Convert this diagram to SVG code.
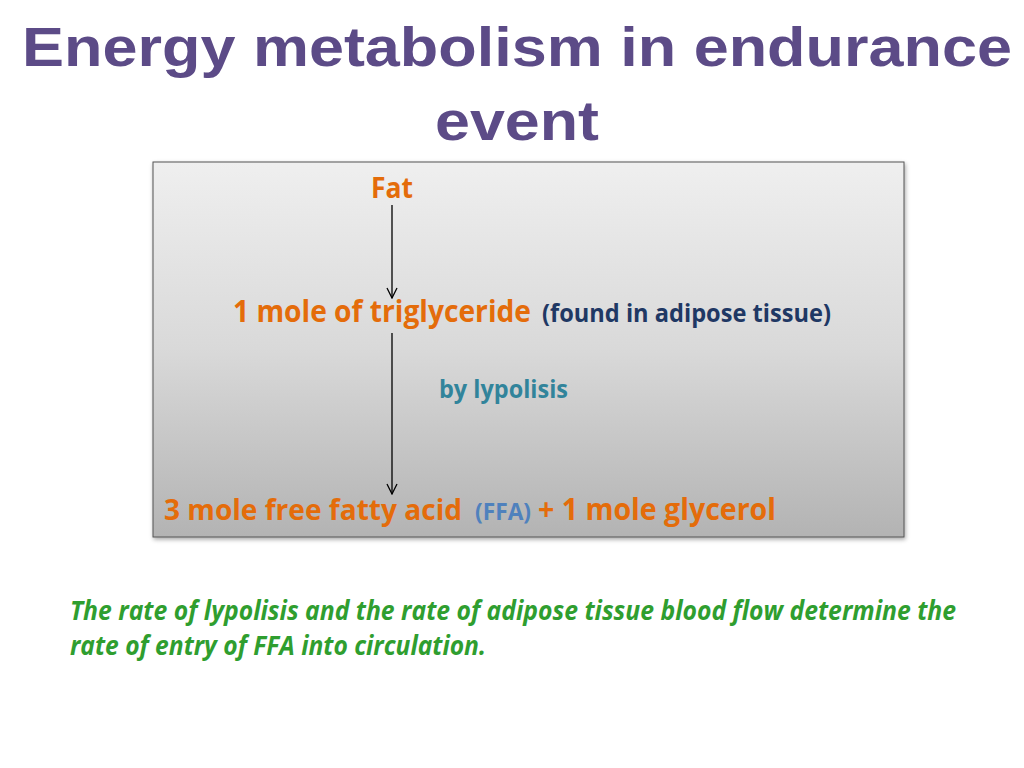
<svg xmlns="http://www.w3.org/2000/svg" width="1024" height="768" viewBox="0 0 1024 768">
<defs>
<linearGradient id="bg" x1="0" y1="0" x2="0" y2="1">
<stop offset="0" stop-color="#efefef"/>
<stop offset="0.5" stop-color="#d9d9d9"/>
<stop offset="1" stop-color="#b3b3b3"/>
</linearGradient>
<marker id="ah" viewBox="0 0 12 12" refX="11" refY="6" markerWidth="12" markerHeight="12" markerUnits="userSpaceOnUse" orient="auto">
<path d="M1,1 L11,6 L1,11" fill="none" stroke="#000" stroke-width="1.3"/>
</marker>
<filter id="sh" x="-5%" y="-5%" width="110%" height="115%">
<feDropShadow dx="1" dy="2" stdDeviation="2" flood-color="#000" flood-opacity="0.35"/>
</filter>
</defs>
<style>
text{font-family:"Open Sans","Noto Sans","Liberation Sans",sans-serif;font-weight:bold}
.title{font-family:"Liberation Sans",Arial,sans-serif;font-size:56px;fill:#5c4b87}
.or{fill:#e46c0a;font-size:30px}
.navy{fill:#1f3864;font-size:25px}
.teal{fill:#31849b;font-size:25px}
.blue{fill:#4f81bd;font-size:23px}
.green{fill:#2f9e2f;font-size:26px;font-style:italic}
.conn{stroke:#000;stroke-width:1.3;fill:none}
</style>
<rect width="1024" height="768" fill="#fff"/>
<g id="title">
<text class="title" x="22" y="66" textLength="990" lengthAdjust="spacingAndGlyphs">Energy metabolism in endurance</text>
<text class="title" x="435" y="140" textLength="164" lengthAdjust="spacingAndGlyphs">event</text>
</g>
<g id="panel">
<rect x="153" y="162" width="751" height="375" fill="url(#bg)" stroke="#555" stroke-width="1" filter="url(#sh)"/>
</g>
<g id="fat">
<text class="or" x="371" y="198" textLength="42" lengthAdjust="spacingAndGlyphs" style="font-size:28px">Fat</text>
</g>
<g id="triglyceride">
<text y="322"><tspan class="or" x="233" textLength="298" lengthAdjust="spacingAndGlyphs">1 mole of triglyceride</tspan><tspan class="navy" x="542" textLength="289" lengthAdjust="spacingAndGlyphs">(found in adipose tissue)</tspan></text>
</g>
<g id="lypolisis">
<text class="teal" x="439" y="398" textLength="129" lengthAdjust="spacingAndGlyphs">by lypolisis</text>
</g>
<g id="products">
<text y="520"><tspan class="or" x="164" textLength="298" lengthAdjust="spacingAndGlyphs" style="font-size:28px">3 mole free fatty acid</tspan><tspan class="blue" x="475" textLength="56" lengthAdjust="spacingAndGlyphs">(FFA)</tspan><tspan class="or" x="538" textLength="238" lengthAdjust="spacingAndGlyphs">+ 1 mole glycerol</tspan></text>
</g>
<g id="connectors">
<line class="conn" x1="392" y1="205" x2="392" y2="298" marker-end="url(#ah)"/>
<line class="conn" x1="392" y1="333" x2="392" y2="494" marker-end="url(#ah)"/>
</g>
<g id="note">
<text class="green" x="70" y="620" textLength="886" lengthAdjust="spacingAndGlyphs">The rate of lypolisis and the rate of adipose tissue blood flow determine the</text>
<text class="green" x="70" y="655" textLength="416" lengthAdjust="spacingAndGlyphs">rate of entry of FFA into circulation.</text>
</g>
</svg>
